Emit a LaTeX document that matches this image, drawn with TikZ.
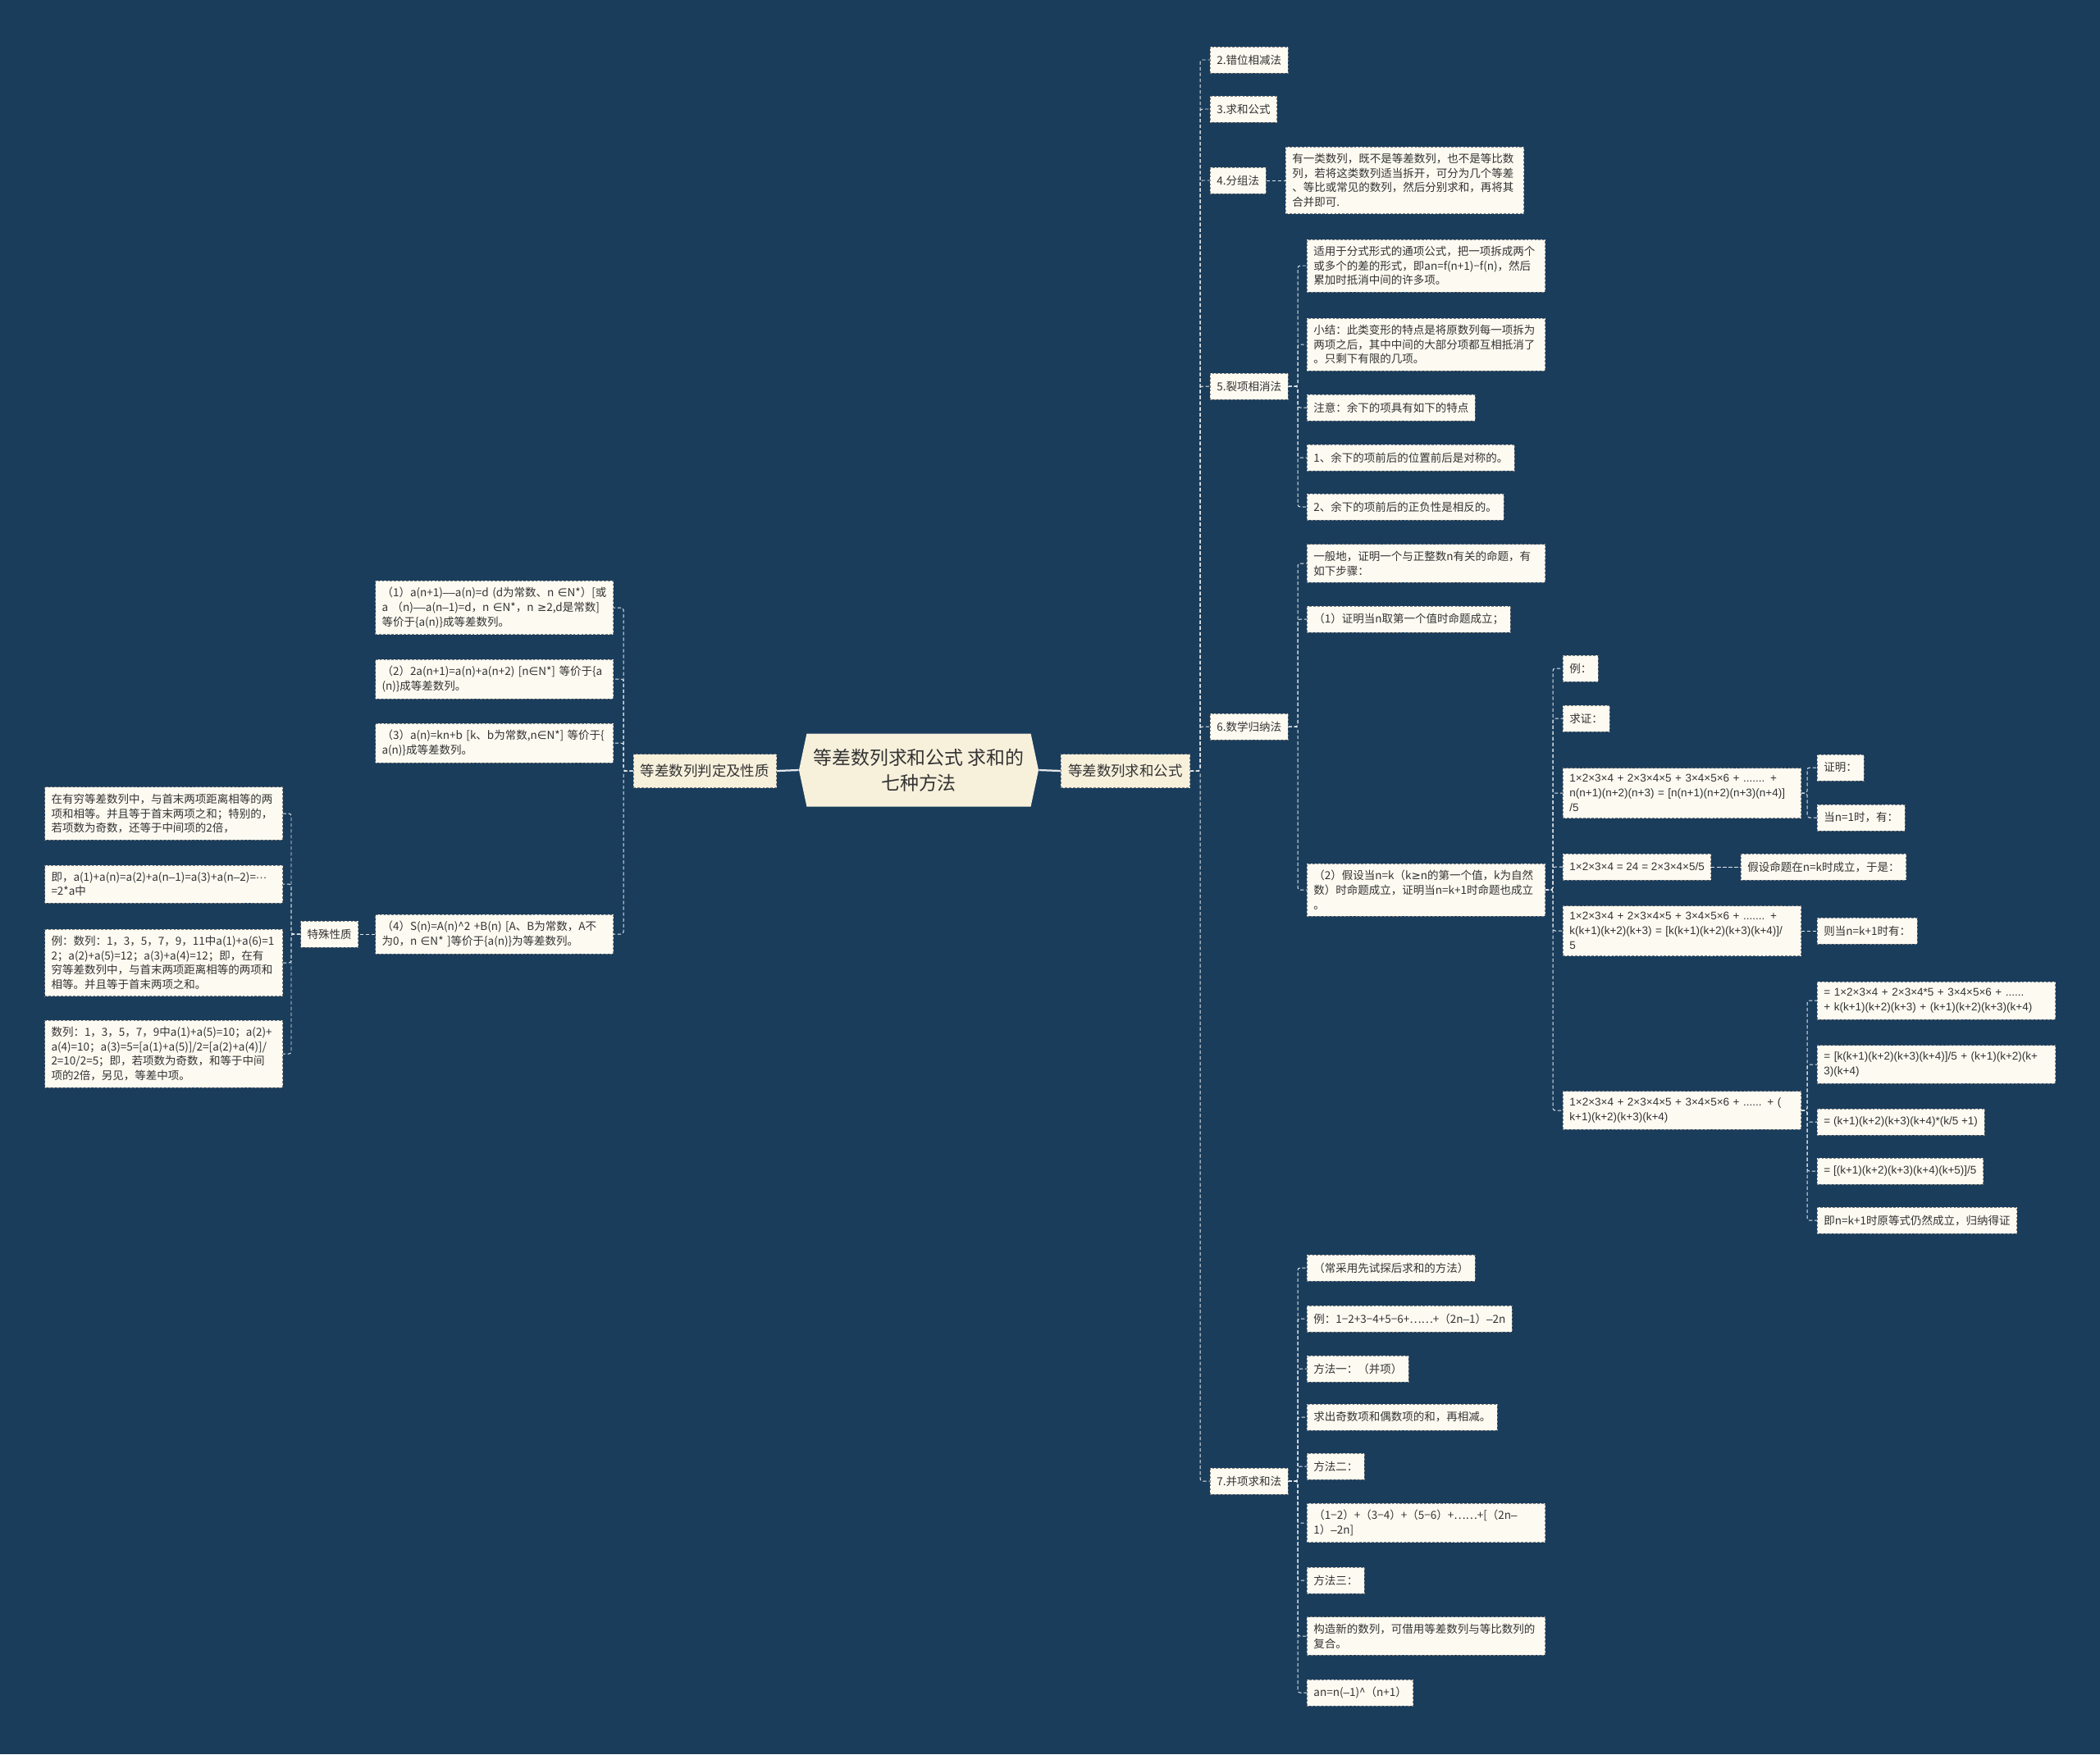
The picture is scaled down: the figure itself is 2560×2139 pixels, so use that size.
\documentclass[tikz,border=0pt]{standalone}
\usepackage{fontspec}
\newfontfamily\cjk{Noto Sans CJK SC}
\newfontfamily\lat{Liberation Sans}
\newfontfamily\djv{DejaVu Sans}
\newcommand\tms{{\lat ×}}
\newcommand\dsh{{\lat –}}
\newcommand\inn{{\djv ∈}}
\newcommand\gee{{\djv ≥}}
\newcommand\mdots{{\lat ···}}
\usetikzlibrary{shapes.symbols}
\definecolor{bgblue}{HTML}{1A3D5C}
\definecolor{leafcream}{HTML}{FCFAF1}
\definecolor{branchcream}{HTML}{F7F1DC}
\definecolor{bordergray}{HTML}{7D7D7D}
\definecolor{linkwhite}{HTML}{E4E8EC}
\definecolor{textdark}{HTML}{333333}

\begin{document}
\begin{tikzpicture}[x=0.025cm,y=-0.025cm,
    leaf/.style={draw=bordergray,dash pattern=on 2pt off 1.5pt,line width=0.6pt,fill=leafcream,text=textdark,
      font=\cjk\fontsize{9.6}{12.6}\selectfont,inner xsep=0.2cm,inner ysep=0.2cm,minimum height=0.8cm,align=left},
    wide/.style={leaf,text width=6.85cm},
    formula/.style={wide,font=\lat\fontsize{9.6}{12.6}\selectfont},
    branch/.style={leaf,fill=branchcream,font=\cjk\fontsize{12.4}{15}\selectfont,minimum height=1.025cm,inner xsep=0.22cm},
    root/.style={shape=signal,signal to=west and east,signal pointer angle=156,fill=branchcream,text=textdark,
      font=\cjk\fontsize{16.3}{22}\selectfont,align=center,minimum width=7.3cm,minimum height=2.225cm,inner sep=0pt},
    link/.style={draw=linkwhite,dash pattern=on 3pt off 2pt,line width=0.7pt,rounded corners=2pt},
    solidlink/.style={draw=linkwhite,line width=1.6pt}]
  \useasboundingbox (0,0) rectangle (2560,2139);
  \fill[bgblue] (0,0) rectangle (2560,2139);

  % centre and first level
  \node[root] (root) at (1120,939) {等差数列求和公式 求和的\\七种方法};
  \node[branch,anchor=east] (lft) at (947,940) {等差数列判定及性质};
  \node[branch,anchor=west] (rgt) at (1293,940) {等差数列求和公式};

  % left side
  \node[wide,anchor=east] (d1) at (748,741) {（1）a(n+1)\dsh\dsh a(n)=d (d为常数、n \inn N*）[或\\a （n)\dsh\dsh a(n\dsh1)=d，n \inn N*，n \gee2,d是常数]\\等价于\{a(n)\}成等差数列。};
  \node[wide,anchor=east] (d2) at (748,828) {（2）2a(n+1)=a(n)+a(n+2) [n\inn N*] 等价于\{a\\(n)\}成等差数列。};
  \node[wide,anchor=east] (d3) at (748,906) {（3）a(n)=kn+b [k、b为常数,n\inn N*] 等价于\{\\a(n)\}成等差数列。};
  \node[wide,anchor=east] (d4) at (748,1139) {（4）S(n)=A(n)\textasciicircum2 +B(n) [A、B为常数，A不\\为0，n \inn N* ]等价于\{a(n)\}为等差数列。};
  \node[leaf,anchor=east] (tsx) at (437,1139) {特殊性质};
  \node[wide,anchor=east] (p1) at (345,992) {在有穷等差数列中，与首末两项距离相等的两\\项和相等。并且等于首末两项之和；特别的，\\若项数为奇数，还等于中间项的2倍，};
  \node[wide,anchor=east] (p2) at (345,1078) {即，a(1)+a(n)=a(2)+a(n\dsh1)=a(3)+a(n\dsh2)=\mdots\\=2*a中};
  \node[wide,anchor=east] (p3) at (345,1174) {例：数列：1，3，5，7，9，11中a(1)+a(6)=1\\2；a(2)+a(5)=12；a(3)+a(4)=12；即，在有\\穷等差数列中，与首末两项距离相等的两项和\\相等。并且等于首末两项之和。};
  \node[wide,anchor=east] (p4) at (345,1285) {数列：1，3，5，7，9中a(1)+a(5)=10；a(2)+\\a(4)=10；a(3)=5=[a(1)+a(5)]/2=[a(2)+a(4)]/\\2=10/2=5；即，若项数为奇数，和等于中间\\项的2倍，另见，等差中项。};

  % right side, methods
  \node[leaf,anchor=west] (m2) at (1475,73) {2.错位相减法};
  \node[leaf,anchor=west] (m3) at (1475,133) {3.求和公式};
  \node[leaf,anchor=west] (m4) at (1475,220) {4.分组法};
  \node[leaf,anchor=west] (m5) at (1475,471) {5.裂项相消法};
  \node[leaf,anchor=west] (m6) at (1475,886) {6.数学归纳法};
  \node[leaf,anchor=west] (m7) at (1475,1806) {7.并项求和法};

  \node[wide,anchor=west] (m4a) at (1567,220) {有一类数列，既不是等差数列，也不是等比数\\列，若将这类数列适当拆开，可分为几个等差\\、等比或常见的数列，然后分别求和，再将其\\合并即可.};

  \node[wide,anchor=west] (m5a) at (1593,324) {适用于分式形式的通项公式，把一项拆成两个\\或多个的差的形式，即an=f(n+1)−f(n)，然后\\累加时抵消中间的许多项。};
  \node[wide,anchor=west] (m5b) at (1593,420) {小结：此类变形的特点是将原数列每一项拆为\\两项之后，其中中间的大部分项都互相抵消了\\。只剩下有限的几项。};
  \node[leaf,anchor=west] (m5c) at (1593,497) {注意：余下的项具有如下的特点};
  \node[leaf,anchor=west] (m5d) at (1593,558) {1、余下的项前后的位置前后是对称的。};
  \node[leaf,anchor=west] (m5e) at (1593,618) {2、余下的项前后的正负性是相反的。};

  \node[wide,anchor=west] (m6a) at (1593,687) {一般地，证明一个与正整数n有关的命题，有\\如下步骤：};
  \node[leaf,anchor=west] (m6b) at (1593,755) {（1）证明当n取第一个值时命题成立；};
  \node[wide,anchor=west] (m6c) at (1593,1085) {（2）假设当n=k（k\gee n的第一个值，k为自然\\数）时命题成立，证明当n=k+1时命题也成立\\。};

  \node[leaf,anchor=west] (e1) at (1905,815) {例：};
  \node[leaf,anchor=west] (e2) at (1905,876) {求证：};
  \node[formula,anchor=west] (f1) at (1905,967) {1×2×3×4 + 2×3×4×5 + 3×4×5×6 + ....... +\\n(n+1)(n+2)(n+3) = [n(n+1)(n+2)(n+3)(n+4)]\\/5};
  \node[leaf,font=\lat\fontsize{9.6}{12.6}\selectfont,anchor=west] (f2) at (1905,1057) {1×2×3×4 = 24 = 2×3×4×5/5};
  \node[formula,anchor=west] (f3) at (1905,1135) {1×2×3×4 + 2×3×4×5 + 3×4×5×6 + ....... +\\k(k+1)(k+2)(k+3) = [k(k+1)(k+2)(k+3)(k+4)]/\\5};
  \node[formula,anchor=west] (f4) at (1905,1354) {1×2×3×4 + 2×3×4×5 + 3×4×5×6 + ...... + (\\k+1)(k+2)(k+3)(k+4)};

  \node[leaf,anchor=west] (f1a) at (2215,936) {证明：};
  \node[leaf,anchor=west] (f1b) at (2215,997) {当n=1时，有：};
  \node[leaf,anchor=west] (f2a) at (2122,1057) {假设命题在n=k时成立，于是：};
  \node[leaf,anchor=west] (f3a) at (2215,1135) {则当n=k+1时有：};
  \node[formula,anchor=west] (g1) at (2215,1220) {= 1×2×3×4 + 2×3×4*5 + 3×4×5×6 + ......\\+ k(k+1)(k+2)(k+3) + (k+1)(k+2)(k+3)(k+4)};
  \node[formula,anchor=west] (g2) at (2215,1298) {= [k(k+1)(k+2)(k+3)(k+4)]/5 + (k+1)(k+2)(k+\\3)(k+4)};
  \node[leaf,font=\lat\fontsize{9.6}{12.6}\selectfont,anchor=west] (g3) at (2215,1368) {= (k+1)(k+2)(k+3)(k+4)*(k/5 +1)};
  \node[leaf,font=\lat\fontsize{9.6}{12.6}\selectfont,anchor=west] (g4) at (2215,1428) {= [(k+1)(k+2)(k+3)(k+4)(k+5)]/5};
  \node[leaf,anchor=west] (g5) at (2215,1488) {即n=k+1时原等式仍然成立，归纳得证};

  \node[leaf,anchor=west] (h1) at (1593,1546) {（常采用先试探后求和的方法）};
  \node[leaf,anchor=west] (h2) at (1593,1608) {例：1−2+3−4+5−6+……+（2n\dsh1）\dsh2n};
  \node[leaf,anchor=west] (h3) at (1593,1669) {方法一：（并项）};
  \node[leaf,anchor=west] (h4) at (1593,1728) {求出奇数项和偶数项的和，再相减。};
  \node[leaf,anchor=west] (h5) at (1593,1788) {方法二：};
  \node[wide,anchor=west] (h6) at (1593,1857) {（1−2）+（3−4）+（5−6）+……+[（2n\dsh\\1）\dsh2n]};
  \node[leaf,anchor=west] (h7) at (1593,1927) {方法三：};
  \node[wide,anchor=west] (h8) at (1593,1995) {构造新的数列，可借用等差数列与等比数列的\\复合。};
  \node[leaf,anchor=west] (h9) at (1593,2064) {an=n(\dsh1)\textasciicircum（n+1）};

  % connectors
  \draw[solidlink] (root.west) -- (lft.east);
  \draw[solidlink] (root.east) -- (rgt.west);
  \foreach \kid in {d1,d2,d3,d4}
    \draw[link] (lft.west) -| ([xshift=0.3cm]\kid.east) -- (\kid.east);
  \draw[link] (d4.west) -- (tsx.east);
  \foreach \kid in {p1,p2,p3,p4}
    \draw[link] (tsx.west) -| ([xshift=0.25cm]\kid.east) -- (\kid.east);
  \foreach \kid in {m2,m3,m4,m5,m6,m7}
    \draw[link] (rgt.east) -| ([xshift=-0.3cm]\kid.west) -- (\kid.west);
  \draw[link] (m4.east) -- (m4a.west);
  \foreach \kid in {m5a,m5b,m5c,m5d,m5e}
    \draw[link] (m5.east) -| ([xshift=-0.275cm]\kid.west) -- (\kid.west);
  \foreach \kid in {m6a,m6b,m6c}
    \draw[link] (m6.east) -| ([xshift=-0.275cm]\kid.west) -- (\kid.west);
  \foreach \kid in {e1,e2,f1,f2,f3,f4}
    \draw[link] (m6c.east) -| ([xshift=-0.3cm]\kid.west) -- (\kid.west);
  \foreach \kid in {f1a,f1b}
    \draw[link] (f1.east) -| ([xshift=-0.3cm]\kid.west) -- (\kid.west);
  \draw[link] (f2.east) -- (f2a.west);
  \draw[link] (f3.east) -- (f3a.west);
  \foreach \kid in {g1,g2,g3,g4,g5}
    \draw[link] (f4.east) -| ([xshift=-0.3cm]\kid.west) -- (\kid.west);
  \foreach \kid in {h1,h2,h3,h4,h5,h6,h7,h8,h9}
    \draw[link] (m7.east) -| ([xshift=-0.275cm]\kid.west) -- (\kid.west);
\end{tikzpicture}
\end{document}
